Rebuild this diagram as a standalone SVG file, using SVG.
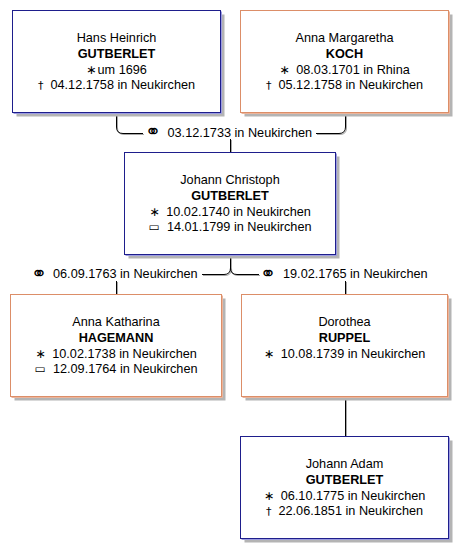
<svg xmlns="http://www.w3.org/2000/svg" width="468" height="558" viewBox="0 0 468 558">
<style>
text{font-family:"Liberation Sans",Arial,sans-serif;font-size:12.7px;fill:#000}
.c{text-anchor:middle}
.b{font-weight:bold}
.st{font-family:"DejaVu Sans",sans-serif;font-size:12.5px}
.dg{font-family:"DejaVu Sans",sans-serif;font-size:11px}
.bu{font-family:"DejaVu Sans",sans-serif;font-size:12px}
.mar{font-family:"DejaVu Sans",sans-serif;font-size:19px}
.shadow{fill:#b4b4b4}
.box{fill:#fff;stroke-width:1}
.blue{stroke:#1e1e8c}
.orange{stroke:#dc8e68}
.lblue{fill:none;stroke:#9c9ce0}
.lorange{fill:none;stroke:#ecb59c}
.ln{fill:none;stroke:#000;stroke-width:1}
.lns{fill:none;stroke:#a8a8a8;stroke-width:1}
</style>
<rect width="468" height="558" fill="#fff"/>
<g id="connectors">
<g transform="translate(1,1)" class="lns">
<path d="M116.5 112.5V127Q116.5 133.5 123 133.5H143"/>
<path d="M316 133.5H339Q345.5 133.5 345.5 127V112.5"/>
<path d="M230.5 139V152.5"/>
<path d="M230.5 254.5V268Q230.5 274.5 224 274.5H202"/>
<path d="M230.5 268Q230.5 274.5 237 274.5H259"/>
<path d="M116.5 281V294.5"/>
<path d="M345.5 281V294.5"/>
<path d="M345.5 396.5V436.5"/>
</g>
<g class="ln">
<path d="M116.5 112.5V127Q116.5 133.5 123 133.5H143"/>
<path d="M316 133.5H339Q345.5 133.5 345.5 127V112.5"/>
<path d="M230.5 139V152.5"/>
<path d="M230.5 254.5V268Q230.5 274.5 224 274.5H202"/>
<path d="M230.5 268Q230.5 274.5 237 274.5H259"/>
<path d="M116.5 281V294.5"/>
<path d="M345.5 281V294.5"/>
<path d="M345.5 396.5V436.5"/>
</g>
<text x="145" y="138" class="mar">⚭</text>
<text x="167.5" y="136.5">03.12.1733 in Neukirchen</text>
<text x="31" y="279.5" class="mar">⚭</text>
<text x="53" y="278">06.09.1763 in Neukirchen</text>
<text x="260" y="279.5" class="mar">⚭</text>
<text x="283" y="278">19.02.1765 in Neukirchen</text>
</g>
<g id="hans">
<rect x="16.5" y="14.5" width="208" height="102" class="shadow"/>
<rect x="12.5" y="10.5" width="208" height="102" class="box blue"/>
<path d="M221.5 11.5V113.5H13.5" class="lblue"/>
<text x="116.5" y="42" class="c">Hans Heinrich</text>
<text x="116.5" y="58" class="c b">GUTBERLET</text>
<text x="116.5" y="73.5" class="c"><tspan class="st">∗</tspan><tspan dx="1">um 1696</tspan></text>
<text x="116.5" y="89" class="c"><tspan class="dg">†</tspan>&#160; 04.12.1758 in Neukirchen</text>
</g>
<g id="anna_margaretha">
<rect x="244.5" y="14.5" width="208" height="102" class="shadow"/>
<rect x="240.5" y="10.5" width="208" height="102" class="box orange"/>
<path d="M449.5 11.5V113.5H241.5" class="lorange"/>
<text x="344.5" y="42" class="c">Anna Margaretha</text>
<text x="344.5" y="58" class="c b">KOCH</text>
<text x="344.5" y="73.5" class="c"><tspan class="st">∗</tspan><tspan dx="3"> 08.03.1701 in Rhina</tspan></text>
<text x="344.5" y="89" class="c"><tspan class="dg">†</tspan>&#160; 05.12.1758 in Neukirchen</text>
</g>
<g id="johann_christoph">
<rect x="128.5" y="156.5" width="211" height="102" class="shadow"/>
<rect x="124.5" y="152.5" width="211" height="102" class="box blue"/>
<path d="M336.5 153.5V255.5H125.5" class="lblue"/>
<text x="230" y="184" class="c">Johann Christoph</text>
<text x="230" y="200" class="c b">GUTBERLET</text>
<text x="230" y="215.5" class="c"><tspan class="st">∗</tspan><tspan dx="3"> 10.02.1740 in Neukirchen</tspan></text>
<text x="230" y="231" class="c"><tspan class="bu">▭</tspan>&#160; 14.01.1799 in Neukirchen</text>
</g>
<g id="anna_katharina">
<rect x="14.5" y="298.5" width="211" height="102" class="shadow"/>
<rect x="10.5" y="294.5" width="211" height="102" class="box orange"/>
<path d="M222.5 295.5V397.5H11.5" class="lorange"/>
<text x="116" y="326" class="c">Anna Katharina</text>
<text x="116" y="342" class="c b">HAGEMANN</text>
<text x="116" y="357.5" class="c"><tspan class="st">∗</tspan><tspan dx="3"> 10.02.1738 in Neukirchen</tspan></text>
<text x="116" y="373" class="c"><tspan class="bu">▭</tspan>&#160; 12.09.1764 in Neukirchen</text>
</g>
<g id="dorothea">
<rect x="245.5" y="298.5" width="206" height="102" class="shadow"/>
<rect x="241.5" y="294.5" width="206" height="102" class="box orange"/>
<path d="M448.5 295.5V397.5H242.5" class="lorange"/>
<text x="344.5" y="326" class="c">Dorothea</text>
<text x="344.5" y="342" class="c b">RUPPEL</text>
<text x="344.5" y="357.5" class="c"><tspan class="st">∗</tspan><tspan dx="3"> 10.08.1739 in Neukirchen</tspan></text>
</g>
<g id="johann_adam">
<rect x="244.5" y="440.5" width="208" height="102" class="shadow"/>
<rect x="240.5" y="436.5" width="208" height="102" class="box blue"/>
<path d="M449.5 437.5V539.5H241.5" class="lblue"/>
<text x="344.5" y="468" class="c">Johann Adam</text>
<text x="344.5" y="484" class="c b">GUTBERLET</text>
<text x="344.5" y="499.5" class="c"><tspan class="st">∗</tspan><tspan dx="3"> 06.10.1775 in Neukirchen</tspan></text>
<text x="344.5" y="515" class="c"><tspan class="dg">†</tspan>&#160; 22.06.1851 in Neukirchen</text>
</g>
</svg>
